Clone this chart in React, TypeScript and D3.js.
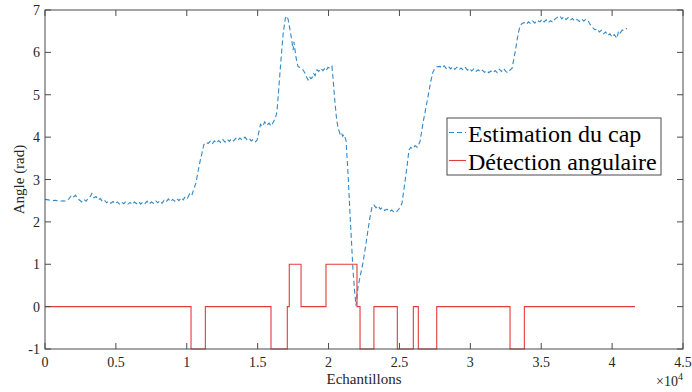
import React from "react";
import * as d3 from "d3";

const xTicks = [0, 5000, 10000, 15000, 20000, 25000, 30000, 35000, 40000, 45000];
const xTickLabels = ["0", "0.5", "1", "1.5", "2", "2.5", "3", "3.5", "4", "4.5"];
const yTicks = [-1, 0, 1, 2, 3, 4, 5, 6, 7];

const legendLabels = ["Estimation du cap", "Détection angulaire"];

// Estimation du cap (heading estimate): [sample, rad]
const capData: [number, number][] = [
  [0,2.53],[250,2.52],[500,2.50],[750,2.51],[1000,2.48],[1250,2.50],[1500,2.49],[1700,2.55],[1850,2.62],[2000,2.58],[2150,2.63],[2300,2.55],[2450,2.51],[2600,2.47],[2750,2.53],[2900,2.49],[3050,2.56],[3200,2.60],[3300,2.67],[3450,2.57],[3600,2.60],[3750,2.52],[3900,2.55],[4050,2.48],[4200,2.51],[4350,2.45],[4500,2.49],[4650,2.44],[4800,2.48],[4950,2.43],[5100,2.47],[5250,2.42],[5400,2.47],[5550,2.43],[5700,2.48],[5850,2.42],[6000,2.46],[6150,2.41],[6300,2.47],[6450,2.43],[6600,2.48],[6750,2.42],[6900,2.47],[7050,2.43],[7200,2.49],[7350,2.42],[7500,2.47],[7650,2.44],[7800,2.50],[7950,2.45],[8100,2.50],[8250,2.44],[8400,2.51],[8550,2.47],[8700,2.54],[8850,2.48],[9000,2.53],[9150,2.49],[9300,2.55],[9450,2.50],[9600,2.57],[9750,2.52],[9900,2.60],[10050,2.56],[10200,2.66],[10350,2.62],[10500,2.78],[10650,2.92],[10800,3.20],[10950,3.45],[11073,3.62],[11200,3.82],[11350,3.88],[11500,3.85],[11650,3.90],[11800,3.84],[11950,3.91],[12100,3.86],[12250,3.92],[12400,3.87],[12550,3.94],[12700,3.88],[12850,3.95],[13000,3.90],[13150,3.96],[13300,3.91],[13450,3.97],[13600,3.92],[13750,3.98],[13900,3.93],[14106,4.00],[14250,3.94],[14400,3.97],[14550,3.91],[14700,3.95],[14850,3.89],[14952,3.92],[15100,4.15],[15200,4.30],[15350,4.25],[15500,4.36],[15650,4.28],[15800,4.33],[15950,4.26],[16100,4.35],[16250,4.45],[16363,4.60],[16500,5.20],[16650,5.85],[16800,6.45],[16950,6.80],[17050,6.86],[17150,6.78],[17280,6.53],[17400,6.30],[17500,6.05],[17560,6.25],[17633,6.06],[17720,5.85],[17844,5.67],[18000,5.64],[18197,5.59],[18350,5.50],[18450,5.42],[18549,5.35],[18650,5.43],[18750,5.38],[18832,5.40],[18950,5.50],[19050,5.45],[19184,5.59],[19300,5.55],[19450,5.62],[19607,5.57],[19750,5.63],[19850,5.58],[19960,5.65],[20100,5.62],[20242,5.67],[20350,5.25],[20454,4.81],[20560,4.45],[20665,4.22],[20750,4.14],[20806,4.08],[20900,4.12],[21000,4.02],[21088,4.06],[21229,3.93],[21380,3.10],[21511,2.21],[21623,1.50],[21723,0.86],[21830,0.40],[21935,0.02],[22076,0.46],[22250,0.75],[22429,1.03],[22600,1.40],[22781,1.81],[22920,2.10],[23063,2.35],[23200,2.40],[23350,2.33],[23500,2.38],[23650,2.30],[23800,2.34],[23950,2.27],[24121,2.30],[24300,2.24],[24450,2.28],[24650,2.22],[24827,2.25],[25000,2.32],[25179,2.44],[25350,2.85],[25532,3.30],[25673,3.70],[25800,3.76],[25950,3.72],[26100,3.80],[26250,3.76],[26449,3.89],[26660,4.33],[26840,4.65],[27013,4.95],[27200,5.30],[27366,5.54],[27500,5.62],[27650,5.66],[27860,5.67],[28000,5.63],[28150,5.68],[28300,5.62],[28450,5.67],[28600,5.61],[28750,5.66],[28900,5.60],[29050,5.65],[29200,5.59],[29350,5.63],[29500,5.58],[29650,5.64],[29800,5.58],[29950,5.62],[30100,5.56],[30250,5.61],[30400,5.55],[30550,5.59],[30700,5.54],[30850,5.58],[31000,5.53],[31150,5.57],[31300,5.52],[31450,5.56],[31597,5.52],[31750,5.57],[31900,5.52],[32050,5.60],[32200,5.55],[32350,5.62],[32500,5.55],[32650,5.52],[32800,5.58],[32938,5.62],[33149,5.99],[33361,6.42],[33500,6.62],[33643,6.68],[33800,6.70],[33950,6.66],[34100,6.72],[34250,6.68],[34400,6.74],[34550,6.69],[34700,6.76],[34912,6.72],[35050,6.78],[35200,6.72],[35350,6.77],[35500,6.70],[35650,6.75],[35829,6.71],[35950,6.78],[36100,6.82],[36323,6.86],[36450,6.79],[36600,6.84],[36750,6.77],[36900,6.82],[37050,6.76],[37200,6.80],[37350,6.74],[37522,6.78],[37700,6.73],[37850,6.79],[38000,6.74],[38150,6.78],[38298,6.75],[38450,6.66],[38650,6.58],[38800,6.53],[38950,6.56],[39100,6.48],[39250,6.52],[39400,6.44],[39550,6.48],[39700,6.40],[39850,6.44],[40000,6.36],[40150,6.42],[40343,6.33],[40450,6.50],[40555,6.45],[40700,6.52],[40907,6.53],[41048,6.57]
];

// Détection angulaire (step signal): breakpoints and levels
const detX = [0, 10300, 11310, 15940, 17090, 17230, 18060, 19820, 22005, 22220, 23200, 24850, 25980, 26330, 27630, 32800, 33810, 41610];
const detY = [0, -1, 0, -1, 0, 1, 0, 1, 0, -1, 0, -1, 0, -1, 0, -1, 0, 0];

const W = 692, H = 392;
const L = 45, R = 683, T = 10, B = 349;
const FONT = "Liberation Serif";
const BLUE = "#3388c6";
const RED = "#e23c3c";
const AXIS = "#4a4a4a";

export default function App() {
  const x = d3.scaleLinear().domain([0, 45000]).range([L, R]);
  const y = d3.scaleLinear().domain([-1, 7]).range([B, T]);

  const capLine = d3.line<[number, number]>().x(d => x(d[0])).y(d => y(d[1]))(capData) || "";
  const detPts: [number, number][] = detX.map((v, i) => [v, detY[i]]);
  const detLine = d3.line<[number, number]>().x(d => x(d[0])).y(d => y(d[1])).curve(d3.curveStepAfter)(detPts) || "";

  const tl = 6;
  return (
    <svg width={W} height={H} style={{ position: "absolute", left: 0, top: 0, background: "#fff", fontFamily: FONT }}>
      <rect x={0} y={0} width={W} height={H} fill="#fff" />
      <path d={capLine} fill="none" stroke={BLUE} strokeWidth={1.1} strokeDasharray="5,3" />
      <path d={detLine} fill="none" stroke={RED} strokeWidth={1.1} />
      <rect x={L} y={T} width={R - L} height={B - T} fill="none" stroke={AXIS} strokeWidth={1} />
      {xTicks.map((t, i) => (
        <g key={"x" + i}>
          <line x1={x(t)} x2={x(t)} y1={B} y2={B - tl} stroke={AXIS} />
          <line x1={x(t)} x2={x(t)} y1={T} y2={T + tl} stroke={AXIS} />
          <text x={x(t)} y={367} textAnchor="middle" style={{ fontFamily: FONT }} fontSize={14} fill="#262626">{xTickLabels[i]}</text>
        </g>
      ))}
      {yTicks.map((t, i) => (
        <g key={"y" + i}>
          <line x1={L} x2={L + tl} y1={y(t)} y2={y(t)} stroke={AXIS} />
          <line x1={R} x2={R - tl} y1={y(t)} y2={y(t)} stroke={AXIS} />
          <text x={40} y={y(t) + 5} textAnchor="end" style={{ fontFamily: FONT }} fontSize={14} fill="#262626">{String(t)}</text>
        </g>
      ))}
      <text x={(L + R) / 2} y={384} textAnchor="middle" style={{ fontFamily: FONT }} fontSize={15} fill="#262626">Echantillons</text>
      <text transform={`translate(24,${(T + B) / 2}) rotate(-90)`} textAnchor="middle" style={{ fontFamily: FONT }} fontSize={15} fill="#262626">Angle (rad)</text>
      <text x={R} y={386} textAnchor="end" style={{ fontFamily: FONT }} fontSize={14} fill="#262626">
        ×10<tspan dy={-6} fontSize={10}>4</tspan>
      </text>
      <g>
        <rect x={447} y={118} width={214} height={57} fill="#fff" stroke={AXIS} strokeWidth={1} />
        <line x1={449} x2={466} y1={132.5} y2={132.5} stroke={BLUE} strokeWidth={1.1} strokeDasharray="5,3" />
        <line x1={449} x2={466} y1={160.5} y2={160.5} stroke={RED} strokeWidth={1.1} />
        <text x={468} y={142} style={{ fontFamily: FONT }} fontSize={24} fill="#000">{legendLabels[0]}</text>
        <text x={468} y={170} style={{ fontFamily: FONT }} fontSize={24} fill="#000">{legendLabels[1]}</text>
      </g>
    </svg>
  );
}
